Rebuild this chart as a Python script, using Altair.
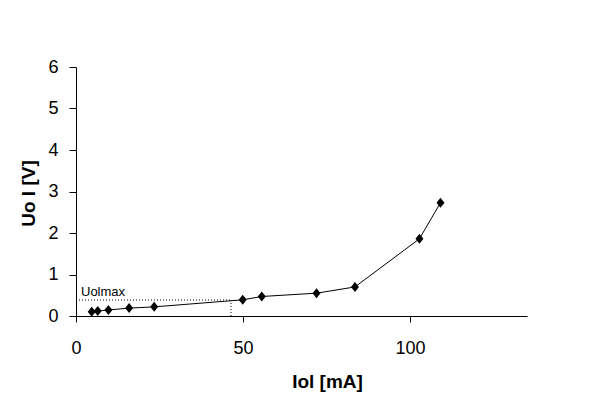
import altair as alt
import pandas as pd

# Data
iol = [4.7, 6.5, 9.7, 15.9, 23.4, 49.9, 55.6, 72.0, 83.5, 102.8, 109.1]
uol = [0.10, 0.12, 0.145, 0.19, 0.22, 0.39, 0.47, 0.55, 0.70, 1.86, 2.73]
uolmax = 0.385
iol_at_max = 46.4
x_ticks = [0, 50, 100]
y_ticks = [0, 1, 2, 3, 4, 5, 6]

df = pd.DataFrame({"Iol": iol, "Uol": uol})
hline = pd.DataFrame({"Iol": [0], "Iol2": [iol_at_max], "Uol": [uolmax]})
vline = pd.DataFrame({"Iol": [iol_at_max], "Uol": [0], "Uol2": [uolmax]})
label = pd.DataFrame({"Iol": [0], "Uol": [uolmax], "text": ["Uolmax"]})

FONT = "Liberation Sans"
xscale = alt.Scale(domain=[0, 135], nice=False, zero=True)
yscale = alt.Scale(domain=[0, 6], nice=False)

xaxis = alt.Axis(values=x_ticks, title="Iol [mA]", grid=False, labelPadding=17,
                 labelFlush=False, tickSize=6,
                 titleX=251, titleY=71, titleBaseline="alphabetic", titleAlign="center")
yaxis = alt.Axis(values=y_ticks, title="Uo l [V]", grid=False, labelPadding=11,
                 labelFlush=False, tickSize=7,
                 titleX=-42, titleY=126, titleAngle=-90, titleBaseline="alphabetic",
                 titleAlign="center")

X = alt.X("Iol:Q", scale=xscale, axis=xaxis)
Y = alt.Y("Uol:Q", scale=yscale, axis=yaxis)

line = alt.Chart(df).mark_line(color="black", strokeWidth=1).encode(x=X, y=Y)
pts = alt.Chart(df).mark_point(shape="M0,-1.25L1,0L0,1.25L-1,0Z", filled=True,
                               color="black", size=64, opacity=1).encode(x=X, y=Y)
h = alt.Chart(hline).mark_rule(color="black", strokeWidth=1, strokeDash=[1, 2]).encode(
    x=X, x2="Iol2:Q", y=Y)
v = alt.Chart(vline).mark_rule(color="black", strokeWidth=1, strokeDash=[1, 2]).encode(
    x=X, y=Y, y2="Uol2:Q")
txt = alt.Chart(label).mark_text(align="left", baseline="alphabetic", dx=5, dy=-4,
                                 font=FONT, fontSize=13, color="black").encode(
    x=X, y=Y, text="text:N")

chart = alt.layer(line, h, v, pts, txt).properties(
    width=451, height=249,
    autosize=alt.AutoSizeParams(type="none"),
    padding={"left": 68, "top": 59, "right": 73, "bottom": 80},
    background="white",
).configure_view(stroke=None).configure_axis(
    domainColor="black", tickColor="black", labelColor="black", titleColor="black",
    labelFont=FONT, titleFont=FONT, labelFontSize=18, titleFontSize=19,
    titleFontWeight="bold", domainWidth=1, tickWidth=1,
)

chart.save("out.html", embed_options={"renderer": "svg", "actions": False})
